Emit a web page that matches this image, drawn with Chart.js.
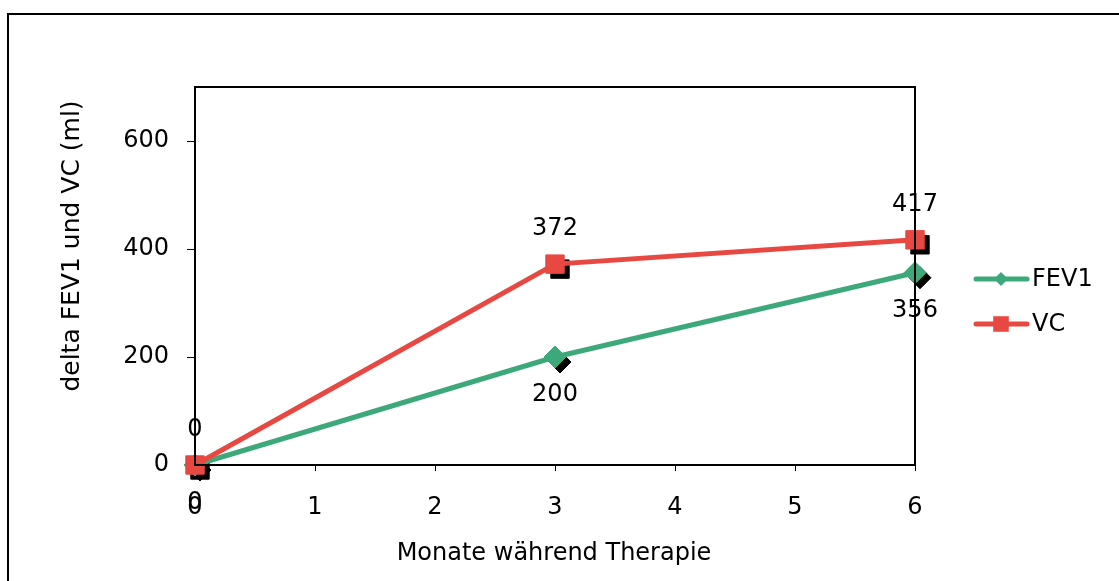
<!DOCTYPE html>
<html>
<head>
<meta charset="utf-8">
<script src="https://cdn.jsdelivr.net/npm/chart.js@4.4.0/dist/chart.umd.min.js"></script>
<style>
  html, body { margin: 0; padding: 0; background: #fff; overflow: hidden; }
  #rahmen { position: absolute; left: 7px; top: 13px; width: 1120px; height: 580px; border: 2px solid #000; box-sizing: border-box; }
  #wrap { position: absolute; left: 0; top: 0; width: 1119px; height: 581px; }
</style>
</head>
<body>
<div id="rahmen"></div>
<div id="wrap"><canvas id="myChart"></canvas></div>
<script>
const monate = [0, 3, 6];
const fev1 = [0, 200, 356];
const vc = [0, 372, 417];
const xTicks = [0, 1, 2, 3, 4, 5, 6];
const yTicks = [0, 200, 400, 600];

const GRUEN = "rgb(61, 169, 122)";
const ROT = "rgb(232, 72, 66)";
const FONT = "DejaVu Sans";
const SIZE = 24;

const punkte = (werte) => monate.map((m, i) => ({ x: m, y: werte[i] }));

/*Schatten der Marker*/
const schatten = {
  id: "schatten",
  beforeDatasetDraw(chart, args) {
    if (chart.data.datasets[args.index].schatten) {
      chart.ctx.save();
      chart.ctx.translate(5, 5);
    }
  },
  afterDatasetDraw(chart, args) {
    if (chart.data.datasets[args.index].schatten) chart.ctx.restore();
  },
};

/*Beschriftungen, Rahmen, Legende*/
const extras = {
  id: "extras",
  afterDatasetsDraw(chart) {
    const ctx = chart.ctx;
    const a = chart.chartArea;
    ctx.save();
    ctx.strokeStyle = "#000";
    ctx.lineWidth = 2;
    ctx.strokeRect(a.left, a.top, a.right - a.left, a.bottom - a.top);

    ctx.fillStyle = "#000";
    ctx.font = SIZE + "px '" + FONT + "'";
    ctx.textAlign = "center";
    ctx.textBaseline = "middle";
    chart.data.datasets.forEach((ds, i) => {
      if (ds.schatten) return;
      const off = ds.label === "VC" ? -35 : 38;
      chart.getDatasetMeta(i).data.forEach((el, j) => {
        ctx.fillText(String(ds.data[j].y), el.x, el.y + off);
      });
    });

    // Achsentitel
    ctx.font = "24px '" + FONT + "'";
    ctx.fillText("Monate während Therapie", 554, 554);
    ctx.save();
    ctx.translate(72, 246);
    ctx.rotate(-Math.PI / 2);
    ctx.font = "25px '" + FONT + "'";
    ctx.fillText("delta FEV1 und VC (ml)", 0, 0);
    ctx.restore();

    // Legende
    ctx.font = "24px '" + FONT + "'";
    const eintraege = [
      { text: "FEV1", farbe: GRUEN, stil: "rectRot", r: 7, y: 279 },
      { text: "VC", farbe: ROT, stil: "rect", r: 11, y: 324 },
    ];
    eintraege.forEach((e) => {
      ctx.strokeStyle = e.farbe;
      ctx.lineWidth = 5;
      ctx.lineCap = "round";
      ctx.beginPath();
      ctx.moveTo(976, e.y);
      ctx.lineTo(1027, e.y);
      ctx.stroke();
      ctx.fillStyle = e.farbe;
      Chart.helpers.drawPoint(ctx, { pointStyle: e.stil, radius: e.r, borderWidth: 0 }, 1001, e.y);
      ctx.fillStyle = "#000";
      ctx.textAlign = "left";
      ctx.fillText(e.text, 1032, e.y + 1);
    });
    ctx.restore();
  },
};

const ctx = document.getElementById("myChart").getContext("2d");
const myChart = new Chart(ctx, {
  type: "line",
  data: {
    datasets: [
      {
        label: "VC",
        data: punkte(vc),
        borderColor: ROT,
        backgroundColor: ROT,
        borderWidth: 5,
        pointStyle: "rect",
        pointRadius: 13,
        pointBorderWidth: 1,
        clip: false,
        order: 0,
      },
      {
        label: "FEV1",
        data: punkte(fev1),
        borderColor: GRUEN,
        backgroundColor: GRUEN,
        borderWidth: 5,
        pointStyle: "rectRot",
        pointRadius: 11,
        pointBorderWidth: 1,
        clip: false,
        order: 1,
      },
      {
        label: "VC Schatten",
        schatten: true,
        data: punkte(vc),
        showLine: false,
        borderColor: "#000",
        backgroundColor: "#000",
        pointStyle: "rect",
        pointRadius: 13,
        pointBorderWidth: 1,
        clip: false,
        order: 2,
      },
      {
        label: "FEV1 Schatten",
        schatten: true,
        data: punkte(fev1),
        showLine: false,
        borderColor: "#000",
        backgroundColor: "#000",
        pointStyle: "rectRot",
        pointRadius: 11,
        pointBorderWidth: 1,
        clip: false,
        order: 3,
      },
    ],
  },
  options: {
    responsive: true,
    maintainAspectRatio: false,
    animation: false,
    devicePixelRatio: 1,
    layout: { padding: { left: 0, top: 87, right: 204, bottom: 0 } },
    plugins: { legend: { display: false }, tooltip: { enabled: false } },
    scales: {
      x: {
        type: "linear",
        min: 0,
        max: 6,
        afterBuildTicks: (s) => { s.ticks = xTicks.map((v) => ({ value: v })); },
        afterFit: (s) => { s.height = 116; },
        grid: { drawOnChartArea: false, color: "#000", tickLength: 6, lineWidth: 1 },
        border: { color: "#000", width: 2 },
        ticks: { color: "#000", padding: 22, font: { family: FONT, size: SIZE }, maxRotation: 0 },
      },
      y: {
        min: 0,
        max: 700,
        afterBuildTicks: (s) => { s.ticks = yTicks.map((v) => ({ value: v })); },
        afterFit: (s) => { s.width = 195; },
        grid: { drawOnChartArea: false, color: "#000", tickLength: 8, lineWidth: 1 },
        border: { color: "#000", width: 2 },
        ticks: { color: "#000", padding: 18, font: { family: FONT, size: SIZE } },
      },
    },
  },
  plugins: [schatten, extras],
});
</script>
</body>
</html>
